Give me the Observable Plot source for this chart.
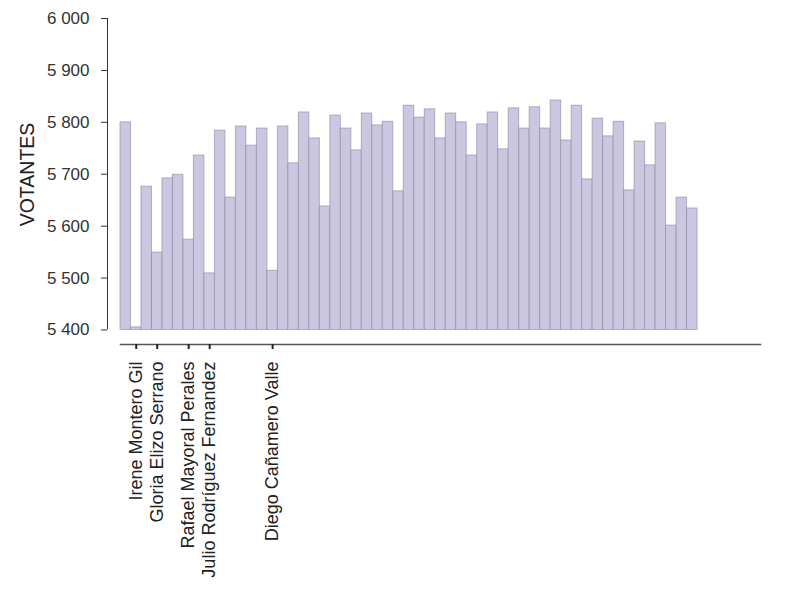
<!DOCTYPE html>
<html>
<head>
<meta charset="utf-8">
<script src="https://cdn.jsdelivr.net/npm/d3@7"></script>
<script src="https://cdn.jsdelivr.net/npm/@observablehq/plot@0.6"></script>
<style>
  html, body { margin: 0; padding: 0; background: #fff; }
  #chart svg { font-family: "Liberation Sans", Arial, Helvetica, sans-serif; }
</style>
</head>
<body>
<div id="chart"></div>
<script>
// Votantes por diputado (55 barras, base 5 400)
const values = [
  5800, 5405, 5676, 5549, 5692, 5699, 5574, 5736, 5509, 5784,
  5655, 5792, 5755, 5788, 5514, 5792, 5721, 5819, 5769, 5638,
  5813, 5788, 5746, 5817, 5794, 5801, 5667, 5832, 5809, 5825,
  5769, 5817, 5800, 5736, 5796, 5819, 5748, 5827, 5788, 5829,
  5788, 5842, 5765, 5832, 5690, 5807, 5773, 5801, 5669, 5763,
  5717, 5798, 5601, 5655, 5634
];
const labeledIndex = [1, 3, 6, 8, 14];
const labeledNames = [
  "Irene Montero Gil",
  "Gloria Elizo Serrano",
  "Rafael Mayoral Perales",
  "Julio Rodríguez Fernandez",
  "Diego Cañamero Valle"
];
const yTicks = [5400, 5500, 5600, 5700, 5800, 5900, 6000];
const slots = 61;
const baseValue = 5400;
const yMin = 5372;
const yMax = 6000;

const bars = values.map((v, i) => ({i, v}));
const tickPos = labeledIndex.map(i => i + 0.5);
const nameAt = new Map(labeledIndex.map((i, k) => [i + 0.5, labeledNames[k]]));
const fmt = d3.formatLocale({decimal: ",", thousands: " ", grouping: [3], currency: ["", ""]}).format(",");

const chart = Plot.plot({
  width: 800,
  height: 600,
  marginLeft: 120,
  marginRight: 40,
  marginTop: 18,
  marginBottom: 256,
  x: {type: "linear", domain: [0, slots]},
  y: {domain: [yMin, yMax]},
  marks: [
    Plot.rectY(bars, {
      x1: d => d.i, x2: d => d.i + 1, y1: baseValue, y2: "v",
      fill: "#cbc7e1", stroke: "#8a86a0", strokeOpacity: 0.6, strokeWidth: 1
    }),
    Plot.ruleX([0], {y1: baseValue, y2: yMax, dx: -13, stroke: "#333", strokeWidth: 1}),
    Plot.axisY({
      ticks: yTicks, tickFormat: fmt, tickSize: 6, tickPadding: 12, dx: -13,
      fontSize: 17, color: "#333", label: null
    }),
    Plot.text(["VOTANTES"], {
      frameAnchor: "left", textAnchor: "middle", rotate: -90, dx: -93, dy: -7,
      fontSize: 19.5, fill: "#222"
    }),
    Plot.frame({anchor: "bottom", stroke: "#555", strokeWidth: 1.5}),
    Plot.axisX({
      ticks: tickPos, tickFormat: d => nameAt.get(d) ?? "", tickRotate: -90,
      tickSize: 5, tickPadding: 12, fontSize: 18, color: "#222", label: null, strokeWidth: 2
    })
  ]
});
document.getElementById("chart").append(chart);
</script>
</body>
</html>
